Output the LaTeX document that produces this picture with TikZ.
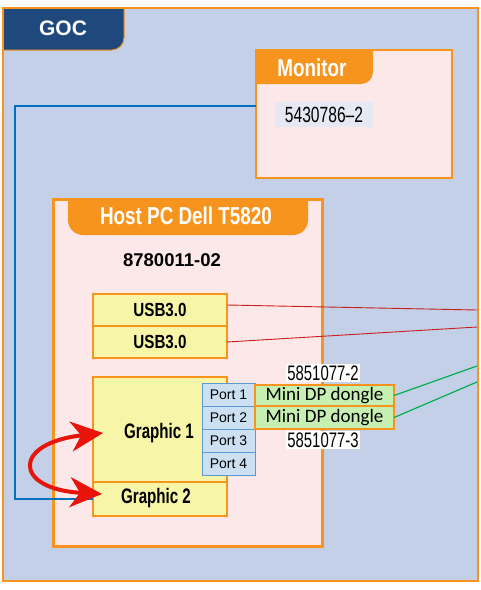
\documentclass[tikz,border=0pt]{standalone}
\usepackage{fontspec}
\setmainfont{Liberation Sans}
\newfontfamily\condf[FakeStretch=0.8]{Liberation Sans}
\newfontfamily\narf[FakeStretch=0.72]{Liberation Sans}
\newfontfamily\numf[FakeStretch=0.71]{Liberation Sans}
\newfontfamily\headf[FakeStretch=0.77]{Liberation Sans}
\newfontfamily\dpf{Carlito}
\usetikzlibrary{arrows.meta,calc}
\definecolor{orng}{RGB}{247,148,30}
\definecolor{gocbg}{RGB}{196,207,232}
\definecolor{goctab}{RGB}{31,73,125}
\definecolor{pinkf}{RGB}{252,232,233}
\definecolor{yel}{RGB}{247,246,168}
\definecolor{portf}{RGB}{204,224,242}
\definecolor{portd}{RGB}{91,155,213}
\definecolor{dpfill}{RGB}{198,239,178}
\definecolor{monlab}{RGB}{230,233,243}
\definecolor{redl}{RGB}{200,30,30}
\definecolor{greenl}{RGB}{0,176,80}
\definecolor{bluel}{RGB}{0,112,192}
\definecolor{arrred}{RGB}{232,20,10}
\tikzset{
  base/.style={inner sep=0pt, outer sep=0pt, anchor=north west},
  ybox/.style={base, draw=orng, fill=yel, line width=1.6pt, minimum width=134pt,
    font=\condf\bfseries\fontsize{19}{21}\selectfont},
  gtxt/.style={font=\narf\bfseries\fontsize{21}{23}\selectfont},
  portbox/.style={base, draw=portd, fill=portf, line width=0.8pt, minimum width=53pt,
    minimum height=23pt, font=\fontsize{14}{16}\selectfont},
  dpbox/.style={base, draw=orng, fill=dpfill, line width=1.6pt, minimum width=139pt,
    font=\dpf\fontsize{19}{21}\selectfont},
  numlab/.style={inner sep=1.5pt, fill=white, font=\numf\fontsize{21}{23}\selectfont},
  headtxt/.style={text=white, font=\headf\bfseries\fontsize{24.5}{26}\selectfont},
  redline/.style={draw=redl, line width=0.9pt},
  greenline/.style={draw=greenl, line width=1.2pt},
  blueline/.style={draw=bluel, line width=1.2pt},
  swaparrow/.style={draw=arrred, line width=4pt,
    {Stealth[length=32pt,width=30pt,inset=10pt]}-{Stealth[length=32pt,width=30pt,inset=10pt]}}
}
\begin{document}
\begin{tikzpicture}[x=1pt,y=-1pt]
\useasboundingbox (0,0) rectangle (481,590);
% GOC frame
\node[base, draw=orng, fill=gocbg, line width=2.5pt, minimum width=475pt, minimum height=573pt] (goc) at (3,8) {};
\filldraw[fill=goctab, draw=orng, line width=1pt] (3,8) -- (124,8) -- (124,38) .. controls (124,44.6) and (118.6,50) .. (112,50) -- (3,50) -- cycle;
\draw[orng, line width=2.5pt] (goc.north west) -- (goc.north east);
\draw[orng, line width=2.5pt] (goc.north west) -- (goc.south west);
\node[text=white, font=\bfseries\fontsize{21}{23}\selectfont] (goct) at (63,28) {GOC};
% Monitor
\node[base, draw=orng, fill=pinkf, line width=2pt, minimum width=196pt, minimum height=128pt] (mon) at (256,50) {};
\fill[orng] (256,50) -- (373,50) -- (373,72) .. controls (373,78.6) and (367.6,84) .. (361,84) -- (256,84) -- cycle;
\draw[orng, line width=2pt] (mon.north west) rectangle (mon.south east);
\node[headtxt] (mont) at (312,68) {Monitor};
\node[base, fill=monlab, minimum width=98pt, minimum height=25pt, font=\numf\fontsize{22}{24}\selectfont] (monl) at (275,102) {5430786–2};
% Host PC
\node[base, draw=orng, fill=pinkf, line width=3pt, minimum width=269pt, minimum height=347pt] (host) at (53.5,199.5) {};
\fill[orng] (68,201) -- (308,201) -- (308,220) .. controls (308,228.3) and (301.3,235) .. (293,235) -- (83,235) .. controls (74.7,235) and (68,228.3) .. (68,220) -- cycle;
\node[headtxt] (hostt) at (186,216) {Host PC Dell T5820};
\node[font=\bfseries\fontsize{18.5}{20}\selectfont] (hostn) at (172,260) {8780011-02};
% USB
\node[ybox, minimum height=32pt] (usb1) at (93,294) {USB3.0};
\node[ybox, minimum height=32pt] (usb2) at (93,326) {USB3.0};
% Graphics
\node[ybox, minimum height=105pt] (g1) at (93,377) {};
\node[gtxt] (g1t) at (159,433) {Graphic 1};
\node[ybox, minimum height=34pt] (g2) at (93,482) {};
\node[gtxt] (g2t) at (156,498) {Graphic 2};
% Ports
\node[portbox] (p1) at (202,383) {Port 1};
\node[portbox] (p2) at (202,406) {Port 2};
\node[portbox] (p3) at (202,429) {Port 3};
\node[portbox] (p4) at (202,452) {Port 4};
% Dongles
\node[dpbox, minimum height=21pt] (dp1) at (255,385) {Mini DP dongle};
\node[dpbox, minimum height=23pt] (dp2) at (255,406) {Mini DP dongle};
\node[numlab] (n2) at (323,373) {5851077-2};
\node[numlab] (n3) at (323,440) {5851077-3};
% connectors
\coordinate (r1) at (477,310);
\coordinate (r2) at (477,327);
\coordinate (gr1) at (477,366);
\coordinate (gr2) at (477,382);
\coordinate (mport) at (256,106);
\draw[redline] ($(usb1.east)+(0,-5)$) -- (r1);
\draw[redline] ($(usb2.east)+(0,0)$) -- (r2);
\draw[greenline] (dp1.east) -- (gr1);
\draw[greenline] (dp2.east) -- (gr2);
\draw[blueline] (mport) -- (15,106) |- (g2.west);
\draw[swaparrow] ($(g1.west)+(10,3.5)$) .. controls (12,443) and (13,489) .. ($(g2.west)+(9,-5)$);
\end{tikzpicture}
\end{document}
